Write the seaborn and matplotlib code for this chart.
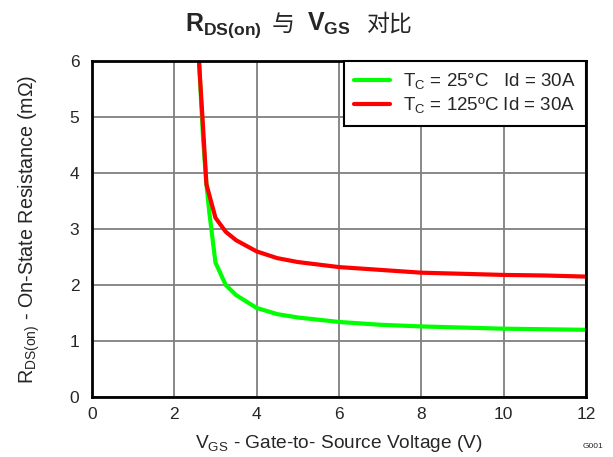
import matplotlib
matplotlib.use("Agg")
import matplotlib.pyplot as plt
import pandas as pd
import seaborn as sns

# values
vgs_25 = [2.6, 2.7, 2.78, 2.85, 3.0, 3.25, 3.5, 4.0, 4.5, 5.0, 6.0, 7.0, 8.0, 9.0, 10.0, 11.0, 12.0]
rds_25 = [6.0, 4.6, 3.8, 3.3, 2.4, 2.0, 1.82, 1.59, 1.48, 1.42, 1.34, 1.29, 1.26, 1.24, 1.22, 1.21, 1.2]
vgs_125 = [2.6, 2.7, 2.78, 3.0, 3.25, 3.5, 4.0, 4.5, 5.0, 6.0, 7.0, 8.0, 9.0, 10.0, 11.0, 12.0]
rds_125 = [6.0, 4.8, 3.8, 3.2, 2.95, 2.8, 2.6, 2.48, 2.41, 2.32, 2.27, 2.22, 2.2, 2.18, 2.17, 2.15]

label_25 = 'T$_\\mathregular{C}$ = 25°C   Id = 30A'
label_125 = 'T$_\\mathregular{C}$ = 125ºC Id = 30A'

df = pd.concat([
    pd.DataFrame({'vgs': vgs_25, 'rds': rds_25, 'cond': label_25}),
    pd.DataFrame({'vgs': vgs_125, 'rds': rds_125, 'cond': label_125}),
])

sns.set_style("white")
plt.rcParams['font.family'] = ['Liberation Sans', 'Noto Sans CJK SC', 'DejaVu Sans']
plt.rcParams['mathtext.fontset'] = 'custom'
plt.rcParams['mathtext.rm'] = 'Liberation Sans'
plt.rcParams['mathtext.bf'] = 'Liberation Sans:bold'

fig = plt.figure(figsize=(6.13, 4.57), dpi=100)
ax = fig.add_axes([0.150, 0.1313, 0.806, 0.7352])

sns.lineplot(data=df, x='vgs', y='rds', hue='cond', hue_order=[label_25, label_125],
             palette=['#00ff00', '#ff0000'], linewidth=3, sort=False, estimator=None, ax=ax)

ax.set_xlim(0, 12)
ax.set_ylim(0, 6)
ax.set_xticks(range(0, 13, 2))
ax.set_yticks(range(0, 7))
ax.grid(True, color='#7f7f7f', linewidth=1.3)
ax.set_axisbelow(True)
ax.tick_params(labelsize=12.5, length=0)
ax.tick_params(axis='x', pad=7)
ax.tick_params(axis='y', pad=9)
for s in ax.spines.values():
    s.set_color('black')
    s.set_linewidth(2)

ax.set_xlabel('V$_\\mathregular{GS}$ - Gate-to- Source Voltage (V)', fontsize=13.8, labelpad=8)
ax.set_ylabel('R$_\\mathregular{DS(on)}$ - On-State Resistance (mΩ)', fontsize=14.2, labelpad=20)

leg = ax.legend(loc='upper right', fontsize=13.5, frameon=True, fancybox=False,
                borderaxespad=0, handlelength=1.9, handletextpad=0.7,
                borderpad=0.55, labelspacing=0.2)
leg.get_frame().set_edgecolor('black')
leg.get_frame().set_linewidth(1.5)
leg.get_frame().set_alpha(1)
leg.set_title(None)

# title: bold latin parts with subscripts, CJK parts in a CJK font
# (left edge of each piece in pixels)
title_parts = [('$\\mathbf{R_{DS(on)}}$', None, 18, 185),
               ('与', 'Noto Sans CJK SC', 16.5, 272),
               ('$\\mathbf{V_{GS}}$', None, 18, 307),
               ('对比', 'Noto Sans CJK SC', 16.5, 367)]
for s, fam, size, px in title_parts:
    kw = {'family': fam} if fam else {}
    fig.text(px / 613, 0.932, s, fontsize=size, ha='left', va='baseline', **kw)

fig.text(0.985, 0.015, 'G001', fontsize=6, ha='right', va='bottom')

fig.savefig('out.png', dpi=100)
